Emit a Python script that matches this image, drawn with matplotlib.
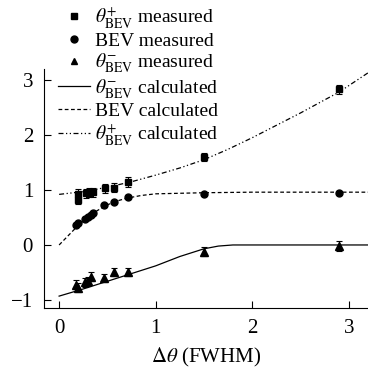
import numpy as np
import matplotlib
matplotlib.use("Agg")
import matplotlib.pyplot as plt
from matplotlib.lines import Line2D

plt.rcParams['font.family'] = 'Liberation Serif'
plt.rcParams['mathtext.fontset'] = 'stix'

# measured data
x_plus = [0.20, 0.20, 0.28, 0.31, 0.35, 0.48, 0.57, 0.71, 1.50, 2.90]
y_plus = [0.93, 0.82, 0.94, 0.95, 0.96, 1.03, 1.04, 1.15, 1.60, 2.83]
e_plus = [0.08, 0.08, 0.08, 0.08, 0.08, 0.08, 0.08, 0.09, 0.08, 0.08]

x_bev = [0.18, 0.20, 0.27, 0.30, 0.33, 0.35, 0.47, 0.57, 0.71, 1.50, 2.90]
y_bev = [0.37, 0.40, 0.47, 0.51, 0.55, 0.58, 0.72, 0.79, 0.87, 0.93, 0.95]
e_bev = [0.03, 0.03, 0.03, 0.03, 0.03, 0.03, 0.03, 0.03, 0.03, 0.03, 0.03]

x_minus = [0.18, 0.20, 0.27, 0.30, 0.33, 0.47, 0.57, 0.71, 1.50, 2.90]
y_minus = [-0.72, -0.78, -0.68, -0.66, -0.58, -0.60, -0.49, -0.49, -0.12, -0.02]
e_minus = [0.08, 0.08, 0.08, 0.08, 0.08, 0.08, 0.08, 0.08, 0.08, 0.09]

# calculated curves
cx_minus = [0.0, 0.25, 0.5, 0.75, 1.0, 1.25, 1.5, 1.65, 1.8, 3.2]
cy_minus = [-0.93, -0.80, -0.66, -0.52, -0.38, -0.21, -0.07, -0.02, 0.0, 0.0]

cx_bev = [0.0, 0.1, 0.2, 0.3, 0.4, 0.5, 0.6, 0.7, 0.85, 1.0, 1.5, 2.0, 3.2]
cy_bev = [0.0, 0.18, 0.36, 0.51, 0.63, 0.73, 0.80, 0.85, 0.90, 0.93, 0.95, 0.96, 0.96]

cx_plus = [0.0, 0.25, 0.5, 0.75, 1.0, 1.25, 1.5, 1.75, 2.0, 2.5, 2.9, 3.2]
cy_plus = [0.92, 0.97, 1.05, 1.15, 1.27, 1.40, 1.55, 1.74, 1.95, 2.40, 2.78, 3.13]

fig = plt.figure(figsize=(3.68, 3.71), dpi=100)
ax = fig.add_axes([0.12, 0.17, 0.88, 0.644])

ax.plot(cx_minus, cy_minus, color='black', lw=0.9, ls='-')
ax.plot(cx_bev, cy_bev, color='black', lw=0.9, ls=(0, (3, 2)))
ax.plot(cx_plus, cy_plus, color='black', lw=0.9, ls=(0, (4, 2, 1, 2, 1, 2)))

ekw = dict(color='black', ecolor='black', elinewidth=0.8, capsize=2.5, capthick=0.8, ls='none')
ax.errorbar(x_plus, y_plus, yerr=e_plus, marker='s', ms=5, **ekw)
ax.errorbar(x_bev, y_bev, yerr=e_bev, marker='o', ms=5, **ekw)
ax.errorbar(x_minus, y_minus, yerr=e_minus, marker='^', ms=6, **ekw)

ax.set_xlim(-0.155, 3.2)
ax.set_ylim(-1.145, 3.2)
ax.set_xticks([0, 1, 2, 3])
ax.set_yticks([-1, 0, 1, 2, 3])
ax.set_yticklabels(['\u22121', '0', '1', '2', '3'])
ax.spines['top'].set_visible(False)
ax.spines['right'].set_visible(False)
ax.tick_params(direction='in', length=5, width=0.8, labelsize=15, pad=8)
ax.set_xlabel(r'$\Delta\theta$ (FWHM)', fontsize=15, labelpad=6)

handles = [
    Line2D([], [], color='black', marker='s', ms=4, ls='none'),
    Line2D([], [], color='black', marker='o', ms=5, ls='none'),
    Line2D([], [], color='black', marker='^', ms=5, ls='none'),
    Line2D([], [], color='black', lw=0.9, ls='-'),
    Line2D([], [], color='black', lw=0.9, ls=(0, (3, 2))),
    Line2D([], [], color='black', lw=0.9, ls=(0, (4, 2, 1, 2, 1, 2))),
]
labels = [
    r'$\theta^{+}_{\rm BEV}$ measured',
    'BEV measured',
    r'$\theta^{-}_{\rm BEV}$ measured',
    r'$\theta^{-}_{\rm BEV}$ calculated',
    'BEV calculated',
    r'$\theta^{+}_{\rm BEV}$ calculated',
]
fig.legend(handles, labels, loc='upper left', bbox_to_anchor=(0.12, 1.022),
           frameon=False, fontsize=14, handlelength=1.65, handletextpad=0.26,
           labelspacing=0.1, borderpad=0.2)

fig.savefig('out.png', dpi=100)
